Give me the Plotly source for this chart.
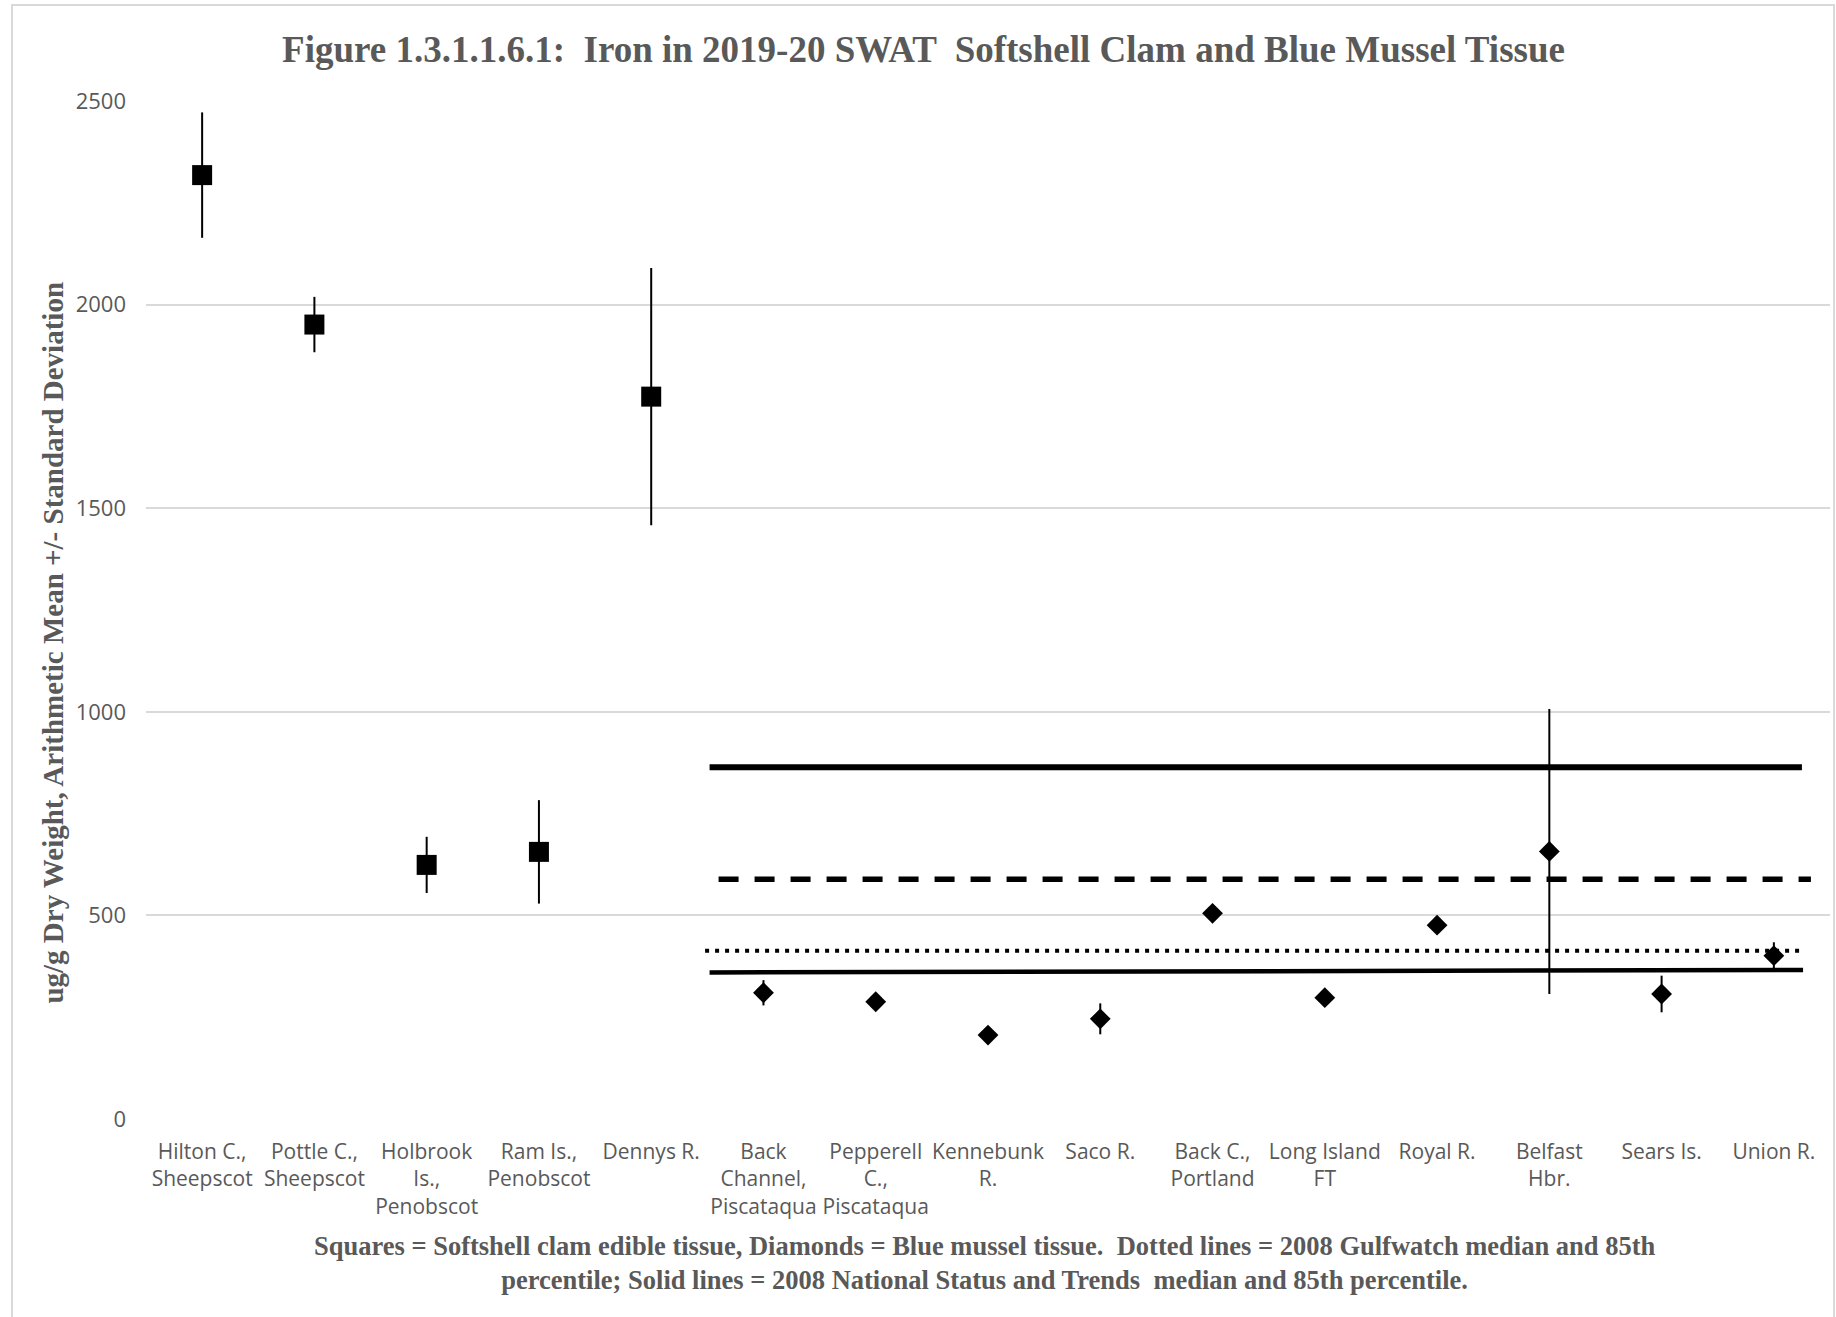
import plotly.graph_objects as go

sites = ["Hilton C.,<br>Sheepscot", "Pottle C.,<br>Sheepscot", "Holbrook<br>Is.,<br>Penobscot",
         "Ram Is.,<br>Penobscot", "Dennys R.", "Back<br>Channel,<br>Piscataqua",
         "Pepperell<br>C.,<br>Piscataqua", "Kennebunk<br>R.", "Saco R.", "Back C.,<br>Portland",
         "Long Island<br>FT", "Royal R.", "Belfast<br>Hbr.", "Sears Is.", "Union R."]
site_idx = list(range(len(sites)))

# Softshell clam (squares)
clam_idx = [0, 1, 2, 3, 4]
clam_mean = [2318, 1951, 624, 656, 1774]
clam_sd = [154, 68, 69, 127, 316]

# Blue mussel (diamonds)
mussel_idx = [5, 6, 7, 8, 9, 10, 11, 12, 13, 14]
mussel_mean = [310, 288, 206, 246, 505, 298, 476, 657, 307, 401]
mussel_sd = [31, 12, 12, 38, 10, 10, 10, 350, 45, 33]

# Reference lines: (x start, x end), (y start, y end)
nst85_x = [4.52, 14.25]; nst85_y = [864, 864]
gw85_x = [4.6, 14.33]; gw85_y = [589, 589]
gwmed_x = [4.48, 14.26]; gwmed_y = [413, 413]
nstmed_x = [4.52, 14.26]; nstmed_y = [360, 366]

yticks = [0, 500, 1000, 1500, 2000, 2500]

gray = "#595959"
fig = go.Figure()

for xs, ys, w, dash in [(nst85_x, nst85_y, 6, "solid"), (gw85_x, gw85_y, 5.5, "20px,16px"),
                        (gwmed_x, gwmed_y, 4, "4px,6px"), (nstmed_x, nstmed_y, 4.5, "solid")]:
    fig.add_trace(go.Scatter(x=xs, y=ys, mode="lines", line=dict(color="black", width=w, dash=dash),
                             showlegend=False, hoverinfo="skip"))

fig.add_trace(go.Scatter(x=clam_idx, y=clam_mean, mode="markers",
                         marker=dict(symbol="square", size=20, color="black"),
                         error_y=dict(type="data", array=clam_sd, color="black", thickness=2, width=0),
                         showlegend=False))
fig.add_trace(go.Scatter(x=mussel_idx, y=mussel_mean, mode="markers",
                         marker=dict(symbol="diamond", size=16, color="black"),
                         error_y=dict(type="data", array=mussel_sd, color="black", thickness=2, width=0),
                         showlegend=False))

fig.update_layout(
    width=1836, height=1317,
    margin=dict(l=146, r=6, t=101, b=198),
    plot_bgcolor="white", paper_bgcolor="white",
    title=dict(text="<b>Figure 1.3.1.1.6.1:  Iron in 2019-20 SWAT  Softshell Clam and Blue Mussel Tissue</b>",
               x=0.503, xanchor="center", y=0.963, yanchor="middle",
               font=dict(family="Liberation Serif", size=37, color=gray)),
    xaxis=dict(range=[-0.5, 14.5], tickvals=site_idx, ticktext=sites, showgrid=False, zeroline=False,
               showline=False, ticks="", tickfont=dict(family="Open Sans", size=21, color=gray),
               ticklabelstandoff=18),
    yaxis=dict(range=[0, 2500], tickvals=yticks, showgrid=True, gridcolor="#d9d9d9", gridwidth=2,
               zeroline=False, showline=False, ticks="",
               tickfont=dict(family="Open Sans", size=22, color=gray), ticklabelstandoff=19),
    shapes=[dict(type="rect", xref="paper", yref="paper", x0=-0.0796, x1=1.0024, y0=-0.2, y1=1.0943,
                 line=dict(color="#d9d9d9", width=2), fillcolor="rgba(0,0,0,0)", layer="below")],
    annotations=[
        dict(text="<b>ug/g Dry Weight, Arithmetic Mean +/- Standard Deviation</b>",
             xref="paper", yref="paper", x=-0.0552, y=0.468, xanchor="center", yanchor="middle",
             textangle=-90, showarrow=False,
             font=dict(family="Liberation Serif", size=29, color=gray)),
        dict(text="<b>Squares = Softshell clam edible tissue, Diamonds = Blue mussel tissue.  Dotted lines = 2008 Gulfwatch median and 85th</b><br><b>percentile; Solid lines = 2008 National Status and Trends  median and 85th percentile.</b>",
             xref="paper", yref="paper", x=0.498, y=-0.141, xanchor="center", yanchor="middle",
             showarrow=False, align="center",
             font=dict(family="Liberation Serif", size=26.5, color=gray))],
)

fig.write_html("out.html", config={"displayModeBar": False},
               post_script="document.body.style.margin='0';")
